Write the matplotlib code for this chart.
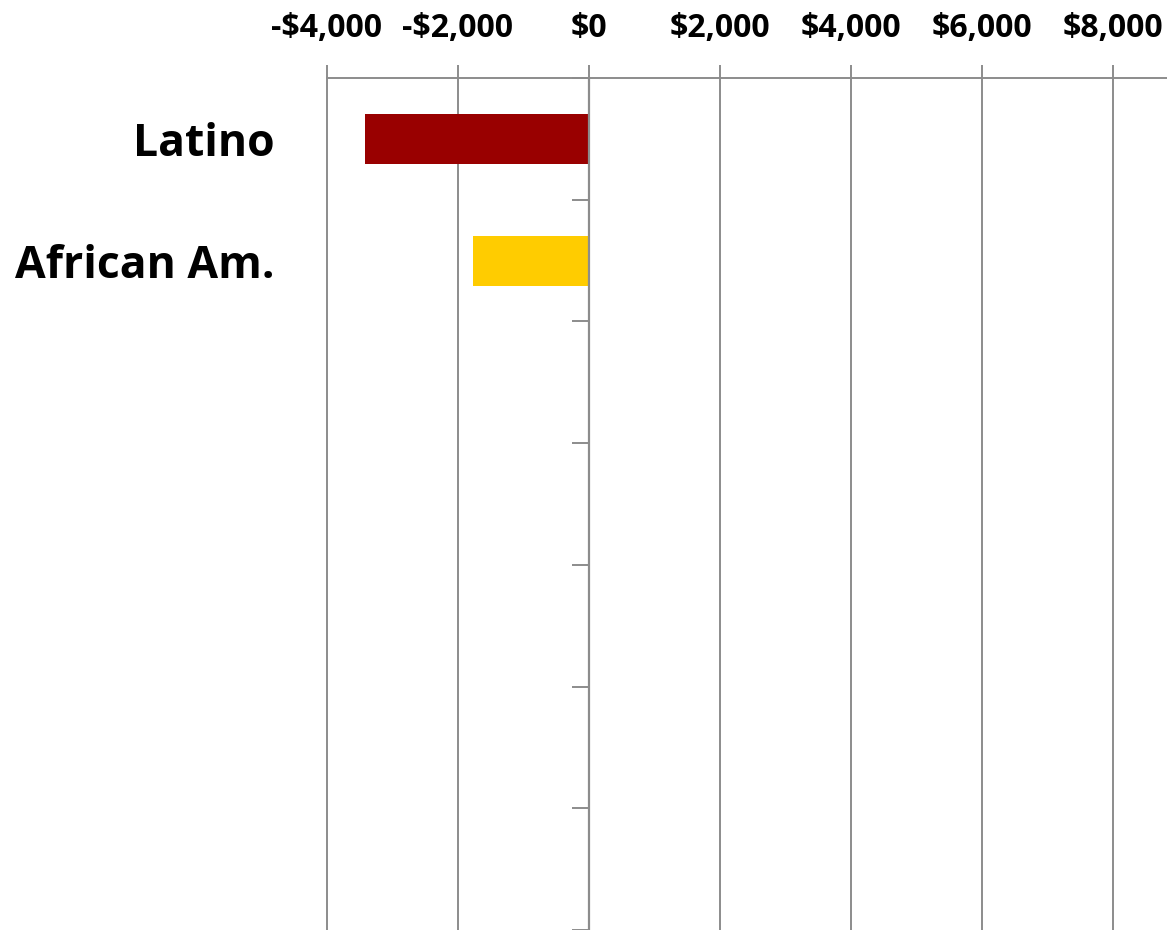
import numpy as np
import matplotlib
matplotlib.use("Agg")
import matplotlib.pyplot as plt
from matplotlib.ticker import FuncFormatter, FixedLocator

# Categories (only the first two carry data)
categories = ["Latino", "African Am.", "", "", "", "", ""]
values = [-3420, -1760, np.nan, np.nan, np.nan, np.nan, np.nan]
bar_colors = ["#990000", "#FFCC00", "#999999", "#999999", "#999999", "#999999", "#999999"]
x_ticks = [-4000, -2000, 0, 2000, 4000, 6000, 8000]

plt.rcParams["font.family"] = ["Open Sans", "DejaVu Sans"]

W, H = 1167, 930
fig = plt.figure(figsize=(W / 100, H / 100), dpi=100)
fig.patch.set_facecolor("white")

x0_px, top_px, zero_px, unit_px = 326.7, 78, 589.0, 131.0 / 2000
x_min = -4000
x_max = (W - zero_px) / unit_px
ax = fig.add_axes([x0_px / W, 0, 1 - x0_px / W, 1 - top_px / H])

ypos = np.arange(len(categories))
ax.barh(ypos, values, height=0.41, color=bar_colors, zorder=3)

grid_c = "#8c8c8c"
ax.set_xlim(x_min, x_max)
ax.set_ylim(len(categories) - 0.5, -0.5)

# value axis on top
ax.xaxis.set_ticks_position("top")
ax.set_xticks(x_ticks)
ax.xaxis.set_major_formatter(FuncFormatter(
    lambda v, p: ("-$" if v < 0 else "$") + f"{abs(int(v)):,}"))
ax.tick_params(axis="x", which="major", direction="out", length=9.5, width=1.4,
               color=grid_c, pad=14, labelsize=23)
for lbl in ax.get_xticklabels():
    lbl.set_fontweight("bold")
ax.grid(axis="x", color=grid_c, linewidth=1.4, zorder=0)
ax.set_axisbelow(True)
for gl in ax.get_xgridlines():
    gl.set_clip_on(False)

# category axis crosses at zero
ax.spines["left"].set_position(("data", 0))
ax.spines["left"].set_color(grid_c)
ax.spines["left"].set_linewidth(1.6)
ax.spines["left"].set_zorder(4)
ax.spines["top"].set_color(grid_c)
ax.spines["top"].set_linewidth(1.4)
ax.spines["right"].set_visible(False)
ax.spines["bottom"].set_visible(False)

ax.set_yticks(ypos)
ax.set_yticklabels(categories)
ax.yaxis.set_minor_locator(FixedLocator(np.arange(-0.5, len(categories) + 0.5, 1.0)))
ax.tick_params(axis="y", which="major", length=0, pad=226, labelsize=32)
ax.tick_params(axis="y", which="minor", direction="out", length=12, width=1.4, color=grid_c)
for lbl in ax.get_yticklabels():
    lbl.set_fontweight("bold")

fig.savefig("out.png", dpi=100, facecolor="white")
